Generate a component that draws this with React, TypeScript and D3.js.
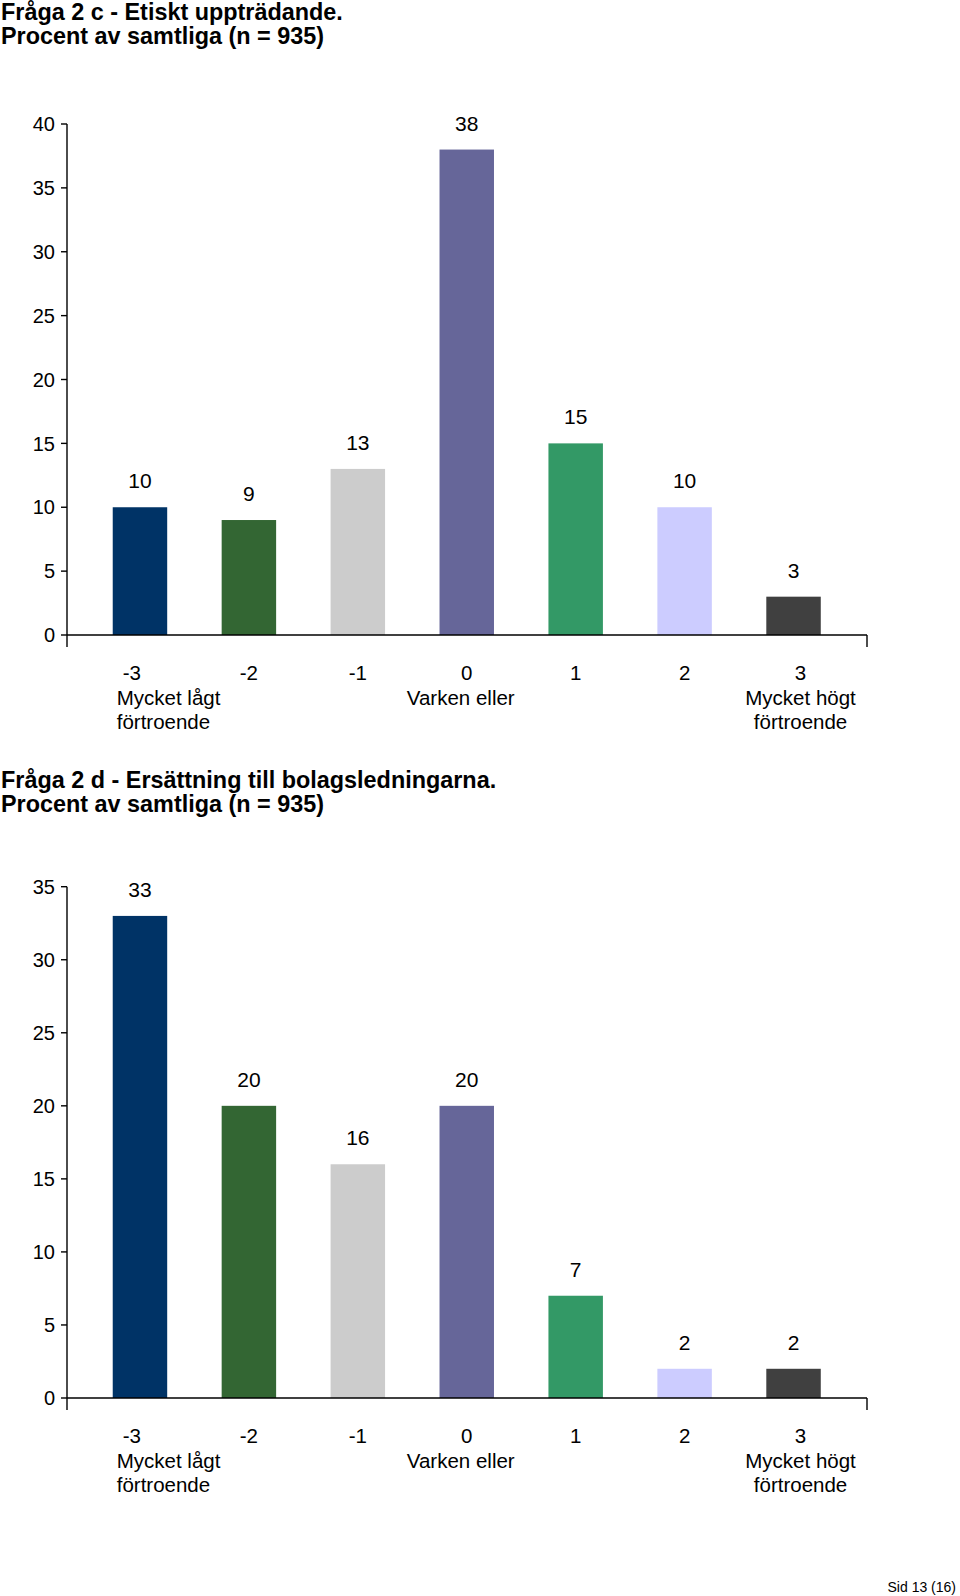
import * as d3 from 'd3';

// Values
const categories = ['-3', '-2', '-1', '0', '1', '2', '3'];
const categoryNotes: string[][] = [['Mycket lågt', 'förtroende'], [], [], ['Varken eller'], [], [], ['Mycket högt', 'förtroende']];
const barColors = ['#003366', '#336633', '#cccccc', '#666699', '#339966', '#ccccff', '#404040'];

const ethicsTitle = ['Fråga 2 c - Etiskt uppträdande.', 'Procent av samtliga (n = 935)'];
const ethicsValues = [10, 9, 13, 38, 15, 10, 3];
const ethicsTicks = [0, 5, 10, 15, 20, 25, 30, 35, 40];

const payTitle = ['Fråga 2 d - Ersättning till bolagsledningarna.', 'Procent av samtliga (n = 935)'];
const payValues = [33, 20, 16, 20, 7, 2, 2];
const payTicks = [0, 5, 10, 15, 20, 25, 30, 35];

const FONT = '"Liberation Sans", Arial, sans-serif';

type ChartProps = {
  title: string[];
  values: number[];
  ticks: number[];
  titleY: number;
  top: number;
  bottom: number;
};

function BarChart({ title, values, ticks, titleY, top, bottom }: ChartProps) {
  const axisLeft = 67;
  const axisRight = 867;

  const x = d3
    .scaleBand<string>()
    .domain(categories)
    .range([85.5, 848])
    .paddingInner(0.5)
    .paddingOuter(0.25);

  const y = d3
    .scaleLinear()
    .domain([0, d3.max(ticks) as number])
    .range([bottom, top]);

  const y0 = y(0);

  return (
    <g fontFamily={FONT} fill="#000">
      {/* title, two bold lines */}
      <text x={1} y={titleY} fontSize={23.4} fontWeight="bold">{title[0]}</text>
      <text x={1} y={titleY + 24} fontSize={23.4} fontWeight="bold">{title[1]}</text>

      {/* bars */}
      {values.map((v, i) => (
        <rect
          key={'b' + i}
          x={x(categories[i])}
          y={y(v)}
          width={x.bandwidth()}
          height={y0 - y(v)}
          fill={barColors[i]}
        />
      ))}

      {/* value labels */}
      {values.map((v, i) => (
        <text
          key={'v' + i}
          x={(x(categories[i]) || 0) + x.bandwidth() / 2}
          y={y(v) - 19}
          fontSize={21}
          textAnchor="middle"
        >
          {v}
        </text>
      ))}

      {/* y axis */}
      <line x1={axisLeft} x2={axisLeft} y1={y(d3.max(ticks) as number)} y2={y0 + 12} stroke="#000" strokeWidth={1.4} />
      {ticks.map((t) => (
        <g key={'t' + t}>
          <line x1={axisLeft - 6} x2={axisLeft} y1={y(t)} y2={y(t)} stroke="#000" strokeWidth={1.4} />
          <text x={axisLeft - 12} y={y(t)} dy="0.36em" fontSize={20} textAnchor="end">{t}</text>
        </g>
      ))}

      {/* x axis */}
      <line x1={axisLeft} x2={axisRight} y1={y0} y2={y0} stroke="#000" strokeWidth={1.4} />
      <line x1={axisRight} x2={axisRight} y1={y0} y2={y0 + 12} stroke="#000" strokeWidth={1.4} />

      {/* category labels */}
      {categories.map((c, i) => {
        const bx = x(c) || 0;
        const cx = bx + x.bandwidth() / 2;
        const first = i === 0;
        const last = i === categories.length - 1;
        const lx = first ? bx + 4 : last ? cx + 7 : cx;
        const anchor = first ? 'start' : 'middle';
        return (
          <text key={'c' + c} fontSize={20.5} textAnchor={anchor}>
            <tspan x={first ? lx + 6 : lx} y={y0 + 45}>{c}</tspan>
            {categoryNotes[i].map((n, j) => (
              <tspan key={j} x={i === 3 ? lx - 6 : lx} y={y0 + 45 + 24.5 * (j + 1)}>{n}</tspan>
            ))}
          </text>
        );
      })}
    </g>
  );
}

export default function App() {
  return (
    <svg
      width={960}
      height={1596}
      style={{ position: 'absolute', left: 0, top: 0, background: '#fff' }}
    >
      <rect width={960} height={1596} fill="#fff" />
      <BarChart title={ethicsTitle} values={ethicsValues} ticks={ethicsTicks} titleY={19.5} top={124} bottom={635} />
      <BarChart title={payTitle} values={payValues} ticks={payTicks} titleY={788} top={886.7} bottom={1398} />
      <text x={956} y={1592} fontSize={14} textAnchor="end" fontFamily={FONT}>Sid 13 (16)</text>
    </svg>
  );
}
